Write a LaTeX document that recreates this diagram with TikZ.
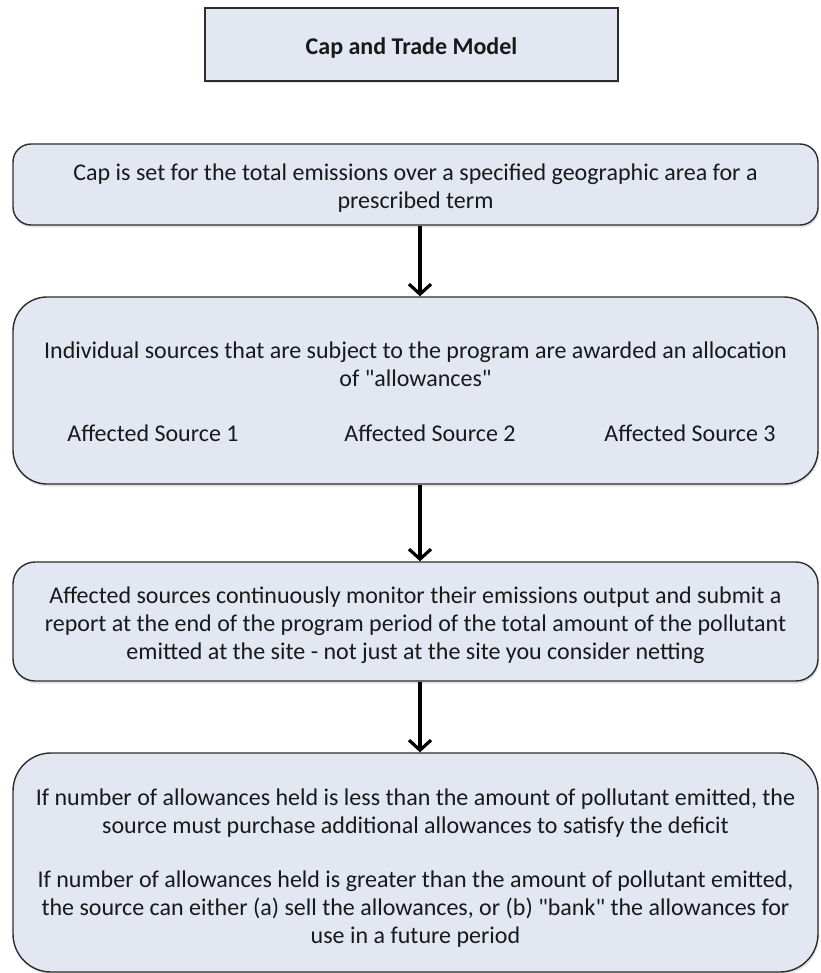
\documentclass[tikz,border=0pt]{standalone}
\usepackage{fontspec}
\setmainfont{Carlito}
\usetikzlibrary{arrows.meta,shadows}
\definecolor{boxfill}{RGB}{226,231,242}
\definecolor{boxline}{RGB}{45,45,45}
\definecolor{txt}{RGB}{25,25,25}
\newcommand{\dq}{\textquotedbl}
\begin{document}
\begin{tikzpicture}[x=1pt,y=-1pt,
  boxbase/.style={draw=boxline, line width=1.4pt, fill=boxfill,
    drop shadow={opacity=0.22, shadow xshift=1pt, shadow yshift=-2.5pt}},
  flowbox/.style={boxbase, rounded corners=#1, minimum width=805pt, inner sep=0pt},
  titlebox/.style={boxbase, minimum width=413pt, minimum height=73pt, inner sep=0pt},
  lbl/.style={text=txt, font=\fontsize{24}{28}\selectfont, align=center, inner sep=0pt, anchor=base},
  arr/.style={line width=3.2pt, draw=black, -{Straight Barb[length=10pt,width=22pt]}}
]
\useasboundingbox (0,0) rectangle (820,973);

\node[titlebox] (title) at (411.5,44.5) {};
\node[lbl] (tt) at (411.5,55) {\bfseries Cap and Trade Model};

\node[flowbox=18pt, minimum height=81pt] (b1) at (415.5,184.5) {};
\node[lbl] (t1) at (415.5,209) {Cap is set for the total emissions over a specified geographic area for a\\prescribed term};

\node[flowbox=34pt, minimum height=187pt] (b2) at (415.5,390.5) {};
\node[lbl] (t2) at (415.5,386) {Individual sources that are subject to the program are awarded an allocation\\of \dq allowances\dq};
\node[lbl] (s1) at (153,441) {Affected Source 1};
\node[lbl] (s2) at (430,441) {Affected Source 2};
\node[lbl] (s3) at (690,441) {Affected Source 3};

\node[flowbox=22pt, minimum height=119pt] (b3) at (415.5,621.5) {};
\node[lbl] (t3) at (415.5,659) {Affected sources continuously monitor their emissions output and submit a\\report at the end of the program period of the total amount of the pollutant\\emitted at the site - not just at the site you consider netting};

\node[flowbox=38pt, minimum height=219pt] (b4) at (415.5,862.5) {};
\node[lbl] (t4) at (415.5,943) {If number of allowances held is less than the amount of pollutant emitted, the\\source must purchase additional allowances to satisfy the deficit\\[26pt]If number of allowances held is greater than the amount of pollutant emitted,\\the source can either (a) sell the allowances, or (b) \dq bank\dq{} the allowances for\\use in a future period};

\draw[arr] ([xshift=4.5pt]b1.south) -- ([xshift=4.5pt]b2.north);
\draw[arr] ([xshift=4.5pt]b2.south) -- ([xshift=4.5pt]b3.north);
\draw[arr] ([xshift=4.5pt]b3.south) -- ([xshift=4.5pt]b4.north);
\end{tikzpicture}
\end{document}
